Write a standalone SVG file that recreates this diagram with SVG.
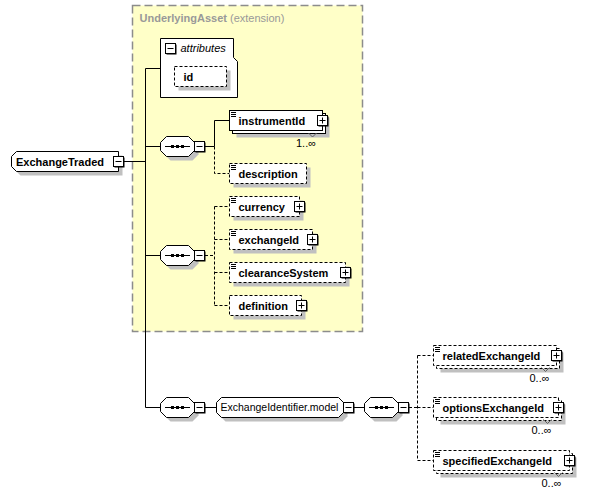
<svg xmlns="http://www.w3.org/2000/svg" xmlns:xlink="http://www.w3.org/1999/xlink" width="598" height="496" viewBox="0 0 598 496">
<style>
text{font-family:"Liberation Sans",Arial,sans-serif;font-size:11px;fill:#000}
.nm{font-weight:bold}
.box{fill:#fff;stroke:#000;stroke-width:1}
.opt{stroke-dasharray:3,2}
.sh{fill:#c0c0c0}
.ln{fill:none;stroke:#000;stroke-width:1}
.dl{fill:none;stroke:#000;stroke-width:1;stroke-dasharray:3,2}
.v{fill:none;stroke:#606060;stroke-width:1}
.doc{fill:none;stroke:#000;stroke-width:1}
</style>
<defs>
<g id="minus">
<rect x="1.5" y="1.5" width="10" height="10" fill="#000"/>
<rect x="0.5" y="0.5" width="10" height="10" class="box"/>
<path d="M2.5,5.5H8.5" class="ln"/>
</g>
<g id="plus">
<rect x="1.5" y="1.5" width="10" height="10" fill="#000"/>
<rect x="0.5" y="0.5" width="10" height="10" class="box"/>
<path d="M2.5,5.5H8.5M5.5,2.5V8.5" class="ln"/>
</g>
<g id="seq">
<path d="M10.5,4.5H32.5L38.5,10.5V18.5L32.5,24.5H10.5L4.5,18.5V10.5Z" class="sh"/>
<path d="M6.5,0.5H28.5L34.5,6.5V14.5L28.5,20.5H6.5L0.5,14.5V6.5Z" class="box"/>
<path d="M5,10.5H30" class="ln"/>
<rect x="11" y="9" width="3" height="3" fill="#000"/>
<rect x="16" y="9" width="3" height="3" fill="#000"/>
<rect x="21" y="9" width="3" height="3" fill="#000"/>
<use xlink:href="#minus" x="34" y="5"/>
</g>
<path id="doc" d="M1,1.5H6M1,3.5H6M1,5.5H6" class="doc"/>
</defs>

<g id="extension">
<rect x="132.5" y="5.5" width="230" height="326" fill="#ffffc8" stroke="#8c8c8c" stroke-width="1.5" stroke-dasharray="8,4"/>
<text x="139.5" y="22" style="fill:#999"><tspan class="nm" style="fill:#999">UnderlyingAsset</tspan> (extension)</text>
</g>

<g id="connectors">
<path d="M123,161.5H145.5M145.5,68.5V407.5M145.5,68.5H160.5M145.5,146.5H160.5M145.5,255.5H160.5M145.5,407.5H160.5" class="ln"/>
<path d="M205,146.5H214.5V120.5H229.5" class="ln"/>
<path d="M214.5,146.5V173.5H229.5" class="dl"/>
<path d="M205,255.5H214.5M214.5,206.5V305.5M214.5,206.5H229.5M214.5,239.5H229.5M214.5,272.5H229.5M214.5,305.5H229.5" class="dl"/>
<path d="M205,407.5H216.5M354,407.5H364.5" class="ln"/>
<path d="M409,407.5H417.5M417.5,355.5V460.5M417.5,355.5H433.5M417.5,407.5H433.5M417.5,460.5H433.5" class="dl"/>
</g>

<g id="ExchangeTraded">
<path d="M20.5,155.5H122.5V175.5H20.5L15.5,170.5V160.5Z" class="sh"/>
<path d="M16.5,151.5H118.5V171.5H16.5L11.5,166.5V156.5Z" class="box"/>
<text x="16" y="165.5" class="nm">ExchangeTraded</text>
<use xlink:href="#minus" x="113" y="156"/>
</g>

<g id="attributes">
<path d="M160.5,38.5H233.5V57.5L237.5,61.5V97.5H160.5Z" class="box"/>
<use xlink:href="#minus" x="165" y="43"/>
<text x="180.5" y="52" font-style="italic">attributes</text>
</g>
<g id="id">
<rect x="178.5" y="70.5" width="52" height="20" class="sh"/>
<rect x="174.5" y="66.5" width="52" height="20" class="box opt"/>
<text x="183.5" y="80.5" class="nm">id</text>
</g>

<g id="seq1"><use xlink:href="#seq" x="160" y="136"/></g>
<g id="seq2"><use xlink:href="#seq" x="160" y="245"/></g>
<g id="seq3"><use xlink:href="#seq" x="160" y="397"/></g>
<g id="seq4"><use xlink:href="#seq" x="364" y="397"/></g>

<g id="instrumentId">
<rect x="236.5" y="117.5" width="93" height="20" class="sh"/>
<rect x="232.5" y="113.5" width="93" height="20" class="box"/>
<rect x="229.5" y="110.5" width="93" height="20" class="box"/>
<use xlink:href="#doc" x="230" y="111"/>
<text x="238.5" y="124.5" class="nm">instrumentId</text>
<use xlink:href="#plus" x="317" y="115"/>
<path d="M308.5,133L312.5,137L316.5,133" class="v"/>
<text x="296" y="147">1..∞</text>
</g>

<g id="description">
<rect x="233.5" y="167.5" width="77" height="20" class="sh"/>
<rect x="229.5" y="163.5" width="77" height="20" class="box opt"/>
<use xlink:href="#doc" x="230" y="164"/>
<text x="238.5" y="177.5" class="nm">description</text>
</g>

<g id="currency">
<rect x="233.5" y="200.5" width="70" height="20" class="sh"/>
<rect x="229.5" y="196.5" width="70" height="20" class="box opt"/>
<use xlink:href="#doc" x="230" y="197"/>
<text x="238.5" y="210.5" class="nm">currency</text>
<use xlink:href="#plus" x="294" y="201"/>
</g>

<g id="exchangeId">
<rect x="233.5" y="233.5" width="83" height="20" class="sh"/>
<rect x="229.5" y="229.5" width="83" height="20" class="box opt"/>
<use xlink:href="#doc" x="230" y="230"/>
<text x="238.5" y="243.5" class="nm">exchangeId</text>
<use xlink:href="#plus" x="307" y="234"/>
</g>

<g id="clearanceSystem">
<rect x="233.5" y="266.5" width="116" height="20" class="sh"/>
<rect x="229.5" y="262.5" width="116" height="20" class="box opt"/>
<use xlink:href="#doc" x="230" y="263"/>
<text x="238.5" y="276.5" class="nm">clearanceSystem</text>
<use xlink:href="#plus" x="340" y="267"/>
</g>

<g id="definition">
<rect x="233.5" y="299.5" width="72" height="20" class="sh"/>
<rect x="229.5" y="295.5" width="72" height="20" class="box opt"/>
<text x="238.5" y="309.5" class="nm">definition</text>
<use xlink:href="#plus" x="296" y="300"/>
</g>

<g id="ExchangeIdentifier.model">
<path d="M225.5,401.5H342.5L347.5,406.5V416.5L342.5,421.5H225.5L220.5,416.5V406.5Z" class="sh"/>
<path d="M221.5,397.5H338.5L343.5,402.5V412.5L338.5,417.5H221.5L216.5,412.5V402.5Z" class="box"/>
<text x="220.5" y="411" style="font-size:10.5px">ExchangeIdentifier.model</text>
<use xlink:href="#minus" x="343" y="402"/>
</g>

<g id="relatedExchangeId">
<rect x="440.5" y="352.5" width="123" height="20" class="sh"/>
<rect x="436.5" y="348.5" width="123" height="20" class="box opt"/>
<rect x="433.5" y="345.5" width="123" height="20" class="box opt"/>
<use xlink:href="#doc" x="434" y="346"/>
<text x="442.5" y="359.5" class="nm">relatedExchangeId</text>
<use xlink:href="#plus" x="551" y="350"/>
<path d="M541.5,367.5L545.5,371.5L549.5,367.5" class="v"/>
<text x="529.5" y="381.5">0..∞</text>
</g>

<g id="optionsExchangeId">
<rect x="440.5" y="404.5" width="125" height="20" class="sh"/>
<rect x="436.5" y="400.5" width="125" height="20" class="box opt"/>
<rect x="433.5" y="397.5" width="125" height="20" class="box opt"/>
<use xlink:href="#doc" x="434" y="398"/>
<text x="442.5" y="411.5" class="nm">optionsExchangeId</text>
<use xlink:href="#plus" x="553" y="402"/>
<path d="M543.5,419.5L547.5,423.5L551.5,419.5" class="v"/>
<text x="531.5" y="434">0..∞</text>
</g>

<g id="specifiedExchangeId">
<rect x="440.5" y="457.5" width="136" height="20" class="sh"/>
<rect x="436.5" y="453.5" width="136" height="20" class="box opt"/>
<rect x="433.5" y="450.5" width="136" height="20" class="box opt"/>
<use xlink:href="#doc" x="434" y="451"/>
<text x="442.5" y="464.5" class="nm">specifiedExchangeId</text>
<use xlink:href="#plus" x="564" y="455"/>
<path d="M554.5,472.5L558.5,476.5L562.5,472.5" class="v"/>
<text x="541.5" y="487">0..∞</text>
</g>
</svg>
